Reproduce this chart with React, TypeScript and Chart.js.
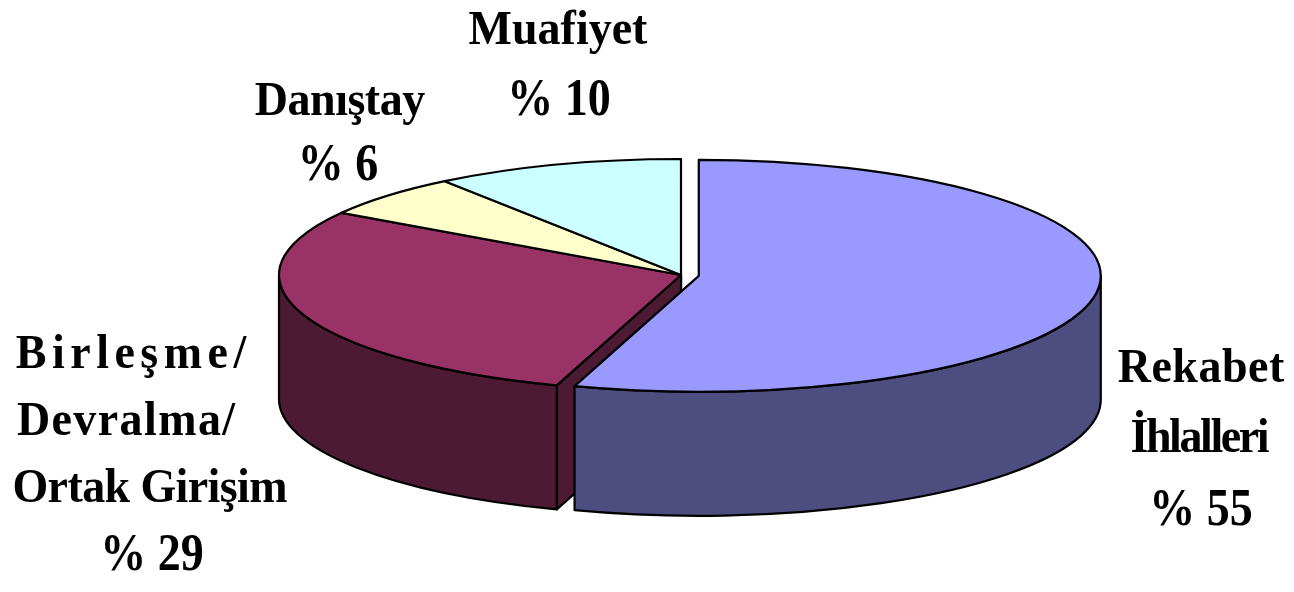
import React, { useEffect, useRef } from "react";
import { Chart, registerables } from "chart.js";

Chart.register(...registerables);

// ---- data ----
const categories = ["Rekabet İhlalleri", "Birleşme/Devralma/Ortak Girişim", "Danıştay", "Muafiyet"];
const shares = [55, 29, 6, 10];
const nameLines = [["Rekabet", "İhlalleri"], ["Birleşme/", "Devralma/", "Ortak Girişim"], ["Danıştay"], ["Muafiyet"]];
const percentLabels = ["% 55", "% 29", "% 6", "% 10"];

// ---- styles ----
const topColors = ["#9999FF", "#993366", "#FFFFCC", "#CCFFFF"];
const sideColors = ["#4D4D80", "#4D1A33", "#80806A", "#668080"];
const EXPLODE = [18, 0, 0, 0];
const TILT = 116 / 402;
const DEPTH = 124;
const RADIUS = 402;
const FONT = "bold 46px 'Liberation Serif', 'Times New Roman', serif";

// label layout per slice: x centres, baselines and letter spacing per line (names then percent)
const LABEL_LAYOUT = [
  { xs: [1201, 1200, 1201], ys: [382, 452, 525], ls: [0.5, -2.4, 0] },
  { xs: [131, 126, 150, 152], ys: [368, 435, 502, 570], ls: [5.5, 1.4, -0.6, 0] },
  { xs: [340, 338], ys: [115, 180], ls: [-0.5, 0] },
  { xs: [558, 559], ys: [44, 115], ls: [0, 0] },
];

const pie3d = {
  id: "pie3d",
  beforeDatasetsDraw(chart: any) {
    const ctx: CanvasRenderingContext2D = chart.ctx;
    const meta = chart.getDatasetMeta(0);
    const arcs: any[] = meta.data;
    if (!arcs.length) return false;
    const cy = arcs[0].y;
    const dz = DEPTH / TILT;
    const tf = () => {
      ctx.translate(0, cy);
      ctx.scale(1, TILT);
      ctx.translate(0, -cy);
    };
    const offs = arcs.map((a, i) => {
      const mid = (a.startAngle + a.endAngle) / 2;
      return [Math.cos(mid) * EXPLODE[i], Math.sin(mid) * EXPLODE[i]];
    });
    const strokeIt = () => {
      ctx.lineWidth = 2.2;
      ctx.strokeStyle = "#000";
      ctx.lineJoin = "round";
      ctx.stroke();
    };

    // 1. radial faces, back to front
    const faces: { i: number; ang: number }[] = [];
    arcs.forEach((a, i) => {
      if (Math.cos(a.startAngle) < -1e-6) faces.push({ i, ang: a.startAngle });
      if (Math.cos(a.endAngle) > 1e-6) faces.push({ i, ang: a.endAngle });
    });
    faces.sort((p, q) => Math.sin(p.ang) - Math.sin(q.ang));
    faces.forEach(({ i, ang }) => {
      const a = arcs[i];
      const [ox, oy] = offs[i];
      const R = a.outerRadius;
      const px = a.x + Math.cos(ang) * R;
      const py = a.y + Math.sin(ang) * R;
      ctx.save();
      tf();
      ctx.translate(ox, oy);
      ctx.beginPath();
      ctx.moveTo(a.x, a.y);
      ctx.lineTo(px, py);
      ctx.lineTo(px, py + dz);
      ctx.lineTo(a.x, a.y + dz);
      ctx.closePath();
      ctx.restore();
      ctx.fillStyle = sideColors[i];
      ctx.fill();
      strokeIt();
    });

    // 2. outer walls (front half only)
    const fronts = [[-2 * Math.PI, -Math.PI], [0, Math.PI], [2 * Math.PI, 3 * Math.PI]];
    arcs.forEach((a, i) => {
      const [ox, oy] = offs[i];
      fronts.forEach(([f0, f1]) => {
        const s = Math.max(a.startAngle, f0);
        const e = Math.min(a.endAngle, f1);
        if (e - s <= 1e-4) return;
        ctx.save();
        tf();
        ctx.translate(ox, oy);
        ctx.beginPath();
        ctx.arc(a.x, a.y, a.outerRadius, s, e, false);
        ctx.arc(a.x, a.y + dz, a.outerRadius, e, s, true);
        ctx.closePath();
        ctx.restore();
        ctx.fillStyle = sideColors[i];
        ctx.fill();
        strokeIt();
      });
    });

    // 3. top faces drawn by the library's arc elements
    arcs.forEach((a, i) => {
      const [ox, oy] = offs[i];
      ctx.save();
      tf();
      ctx.translate(ox, oy);
      a.draw(ctx);
      ctx.restore();
      ctx.save();
      tf();
      ctx.translate(ox, oy);
      ctx.beginPath();
      ctx.moveTo(a.x, a.y);
      ctx.arc(a.x, a.y, a.outerRadius, a.startAngle, a.endAngle, false);
      ctx.closePath();
      ctx.restore();
      strokeIt();
    });
    return false;
  },
  afterDraw(chart: any) {
    const ctx: CanvasRenderingContext2D = chart.ctx;
    ctx.save();
    ctx.fillStyle = "#000";
    ctx.font = FONT;
    ctx.textAlign = "center";
    ctx.textBaseline = "alphabetic";
    LABEL_LAYOUT.forEach((lay, i) => {
      const lines = [...nameLines[i], percentLabels[i]];
      lines.forEach((txt, j) => {
        const isPct = j === lines.length - 1;
        ctx.save();
        (ctx as any).letterSpacing = `${lay.ls[j]}px`;
        const x = lay.xs[j] + lay.ls[j] / 2;
        ctx.translate(x, lay.ys[j]);
        ctx.scale(1, isPct ? 1.15 : 1.04);
        ctx.fillText(txt, 0, 0);
        ctx.restore();
      });
    });
    ctx.restore();
  },
};

export default function App() {
  const ref = useRef<HTMLCanvasElement | null>(null);
  useEffect(() => {
    if (!ref.current) return;
    const chart = new Chart(ref.current, {
      type: "pie",
      data: {
        labels: categories,
        datasets: [
          {
            data: shares,
            backgroundColor: topColors,
            borderWidth: 0,
            clip: false as any,
          },
        ],
      },
      options: {
        animation: false,
        responsive: false,
        devicePixelRatio: 1,
        radius: RADIUS,
        events: [],
        layout: { padding: { left: 68, right: 0, top: 0, bottom: 42 } },
        plugins: { legend: { display: false }, tooltip: { enabled: false } },
      } as any,
      plugins: [pie3d as any],
    });
    return () => chart.destroy();
  }, []);
  return (
    <div style={{ position: "fixed", left: 0, top: 0, width: 1294, height: 592, background: "#fff" }}>
      <canvas ref={ref} width={1294} height={592} style={{ width: 1294, height: 592 }} />
    </div>
  );
}
